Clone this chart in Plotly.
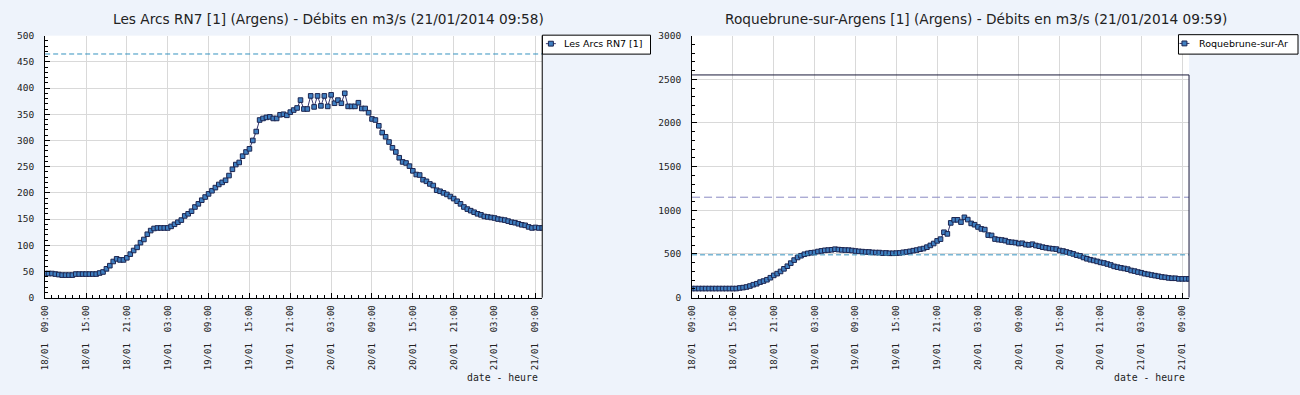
import pandas as pd
import plotly.graph_objects as go

# ---------------- data ----------------
start_time = "2014-01-18 09:00"
step = "30min"

arcs_name = "Les Arcs RN7 [1]"
arcs_values = [
    46, 46, 46, 45, 44, 43, 43, 43, 43, 45, 45, 45, 45, 45, 45, 45,
    47, 49, 55, 61, 69, 74, 72, 72, 76,
    83, 90, 96, 105, 111, 121, 128, 132, 133, 133, 133, 133,
    136, 140, 144, 148, 156, 160, 165, 173, 179, 186, 192, 198,
    204, 210, 216, 220, 224, 233, 245, 254, 258, 270, 278, 284,
    300, 317, 339, 342, 344, 345, 342, 342, 349, 350, 348, 354,
    358, 362, 377, 360, 360, 385, 364, 385, 366, 385, 365, 387,
    371, 377, 371, 390, 365, 365, 365, 372, 361, 361, 353, 341,
    339, 328, 315, 307, 297, 286, 278, 267, 259, 257, 251, 242,
    235, 234, 225, 222, 217, 214, 205, 203, 200, 197, 193, 189,
    184, 179, 173, 169, 166, 163, 160, 158, 155, 154, 153, 152,
    150, 149, 148, 146, 144, 143, 141, 139, 138, 135, 133, 134, 133, 133,
]

roq_name = "Roquebrune-sur-Ar"
roq_values = [
    104, 104, 104, 104, 104, 104, 104, 104, 104, 104, 104, 104, 104, 104,
    111, 115, 122, 133, 148, 159, 178, 190, 205, 228, 255,
    275, 300, 330, 360, 395, 430, 460, 480, 497, 507, 514, 518,
    528, 535, 542, 545, 548, 555, 550, 547, 545, 544, 540, 534,
    530, 527, 523, 523, 518, 516, 516, 510, 512, 508, 508, 510,
    512, 519, 523, 530, 538, 545, 555, 562, 578, 598, 620, 650,
    670, 749, 730, 856, 891, 891, 865, 920, 894, 850, 835, 809,
    787, 779, 716, 712, 671, 664, 660, 653, 638, 634, 630, 619,
    623, 608, 604, 612, 597, 589, 578, 571, 564, 560, 556, 540,
    534, 523, 512, 501, 486, 478, 460, 445, 434, 426, 415, 404,
    397, 385, 374, 358, 349, 341, 334, 326, 311, 304, 293, 285,
    274, 267, 259, 252, 245, 237, 233, 226, 222, 222, 215, 215, 215, 215,
]

arcs_title = "Les Arcs RN7 [1] (Argens) - Débits en m3/s (21/01/2014 09:58)"
roq_title = "Roquebrune-sur-Argens [1] (Argens) - Débits en m3/s (21/01/2014 09:59)"
x_title = "date - heure"

arcs_levels = [465]
arcs_level_colors = ["#3592bf"]
arcs_level_dash = ["5px,3px"]
roq_levels = [490, 1150]
roq_level_colors = ["#3592bf", "#8a8ac2"]
roq_level_dash = ["5px,3px", "8px,4px"]
roq_max_level = 2550

x_start = "2014-01-18 09:00"
x_end = "2014-01-21 10:00"

times_arcs = pd.date_range(start_time, periods=len(arcs_values), freq=step)
times_roq = pd.date_range(start_time, periods=len(roq_values), freq=step)

# ---------------- layout helpers ----------------
W, H = 1300, 395
BG = "#eef3fb"


def px(x):
    return x / W


def py(y):
    return 1 - y / H


L_X0, L_X1 = 40.3, 539.3
R_X0, R_X1 = 689.7, 1188.6
Y_TOP, Y_BOT = 30.5, 300.0

MARKER_FILL = "#3f7fc1"
MARKER_EDGE = "#1c2550"
LINE_COL = "#35356e"

marker = dict(symbol="square", size=4.6, color=MARKER_FILL,
              line=dict(color=MARKER_EDGE, width=1))
line = dict(color=LINE_COL, width=1)

fig = go.Figure()
fig.add_trace(go.Scatter(x=times_arcs, y=arcs_values, mode="lines+markers",
                         name=arcs_name, marker=marker, line=line,
                         xaxis="x", yaxis="y"))
fig.add_trace(go.Scatter(x=times_roq, y=roq_values, mode="lines+markers",
                         name=roq_name, marker=marker, line=line,
                         xaxis="x2", yaxis="y2"))

tickfont = dict(family="DejaVu Sans Mono", size=9.0, color="#222222")
xcommon = dict(
    type="date", range=[x_start, x_end], tick0=x_start, dtick=6 * 3600 * 1000,
    tickformat="%d/%m  %H:%M", tickangle=-90, tickfont=tickfont,
    showgrid=True, gridcolor="#d9d9d9", gridwidth=1,
    showline=True, linecolor="#000000", linewidth=1,
    ticks="inside", ticklen=5, tickcolor="#000000",
    minor=dict(dtick=3600 * 1000, ticks="inside", ticklen=3,
               tickcolor="#000000", showgrid=False),
    zeroline=False, fixedrange=True, ticklabelstandoff=3,
)
ycommon = dict(
    tickfont=dict(family="DejaVu Sans Mono", size=9.5, color="#222222"),
    showgrid=True, gridcolor="#d9d9d9", gridwidth=1,
    showline=True, linecolor="#000000", linewidth=1,
    ticks="inside", ticklen=5, tickcolor="#000000",
    zeroline=False, fixedrange=True, ticklabelstandoff=8,
)

fig.update_layout(
    width=W, height=H,
    margin=dict(l=0, r=0, t=0, b=0),
    paper_bgcolor=BG, plot_bgcolor="#ffffff",
    showlegend=False,
    xaxis=dict(domain=[px(L_X0), px(L_X1)], anchor="y", **xcommon),
    yaxis=dict(domain=[py(Y_BOT), py(Y_TOP)], anchor="x", range=[0, 500],
               dtick=50, minor=dict(dtick=10, ticks="inside", ticklen=3,
                                    tickcolor="#000000", showgrid=False),
               **ycommon),
    xaxis2=dict(domain=[px(R_X0), px(R_X1)], anchor="y2", **xcommon),
    yaxis2=dict(domain=[py(Y_BOT), py(Y_TOP)], anchor="x2", range=[0, 3000],
                dtick=500, minor=dict(dtick=100, ticks="inside", ticklen=3,
                                      tickcolor="#000000", showgrid=False),
                **ycommon),
)

shapes = []
for lvl, col, dsh in zip(arcs_levels, arcs_level_colors, arcs_level_dash):
    shapes.append(dict(type="line", xref="x domain", yref="y", x0=0, x1=1,
                       y0=lvl, y1=lvl, line=dict(color=col, width=1, dash=dsh)))
for lvl, col, dsh in zip(roq_levels, roq_level_colors, roq_level_dash):
    shapes.append(dict(type="line", xref="x2 domain", yref="y2", x0=0, x1=1,
                       y0=lvl, y1=lvl, line=dict(color=col, width=1, dash=dsh)))
shapes.append(dict(type="line", xref="x2 domain", yref="y2", x0=0, x1=1,
                   y0=roq_max_level, y1=roq_max_level,
                   line=dict(color="#1a1a3a", width=1)))
shapes.append(dict(type="line", xref="x2 domain", yref="y2", x0=1, x1=1,
                   y0=0, y1=roq_max_level, line=dict(color="#1a1a3a", width=1)))
shapes.append(dict(type="line", xref="x domain", yref="y domain", x0=1, x1=1,
                   y0=0, y1=1, line=dict(color="#000000", width=1)))


# custom legends (box, symbol, label)
def add_legend(box_x0, box_x1, box_y0, box_y1, sym_x, text_x, label):
    yc = (box_y0 + box_y1) / 2 - 1
    shapes.append(dict(type="rect", xref="paper", yref="paper",
                       x0=px(box_x0), x1=px(box_x1), y0=py(box_y1), y1=py(box_y0),
                       fillcolor="#ffffff", line=dict(color="#000000", width=1),
                       layer="above"))
    shapes.append(dict(type="line", xref="paper", yref="paper",
                       x0=px(sym_x - 5), x1=px(sym_x + 5), y0=py(yc), y1=py(yc),
                       line=dict(color=LINE_COL, width=1), layer="above"))
    shapes.append(dict(type="rect", xref="paper", yref="paper",
                       x0=px(sym_x - 2.5), x1=px(sym_x + 2.5),
                       y0=py(yc + 2.5), y1=py(yc - 2.5),
                       fillcolor=MARKER_FILL, line=dict(color=MARKER_EDGE, width=1),
                       layer="above"))
    fig.add_annotation(text=label, x=px(text_x), y=py(yc), xref="paper", yref="paper",
                       showarrow=False, xanchor="left", yanchor="middle",
                       font=dict(family="DejaVu Sans", size=9.5, color="#000000"))


add_legend(539.5, 648, 30, 49.5, 548, 559, arcs_name)
add_legend(1178, 1298, 29.5, 49.5, 1184, 1197, roq_name)
fig.update_layout(shapes=shapes)

title_font = dict(family="DejaVu Sans", size=13.7, color="#222222")
fig.add_annotation(text=arcs_title, x=px(325), y=py(13), xref="paper", yref="paper",
                   showarrow=False, font=title_font, xanchor="center", yanchor="middle")
fig.add_annotation(text=roq_title, x=px(975), y=py(13), xref="paper", yref="paper",
                   showarrow=False, font=title_font, xanchor="center", yanchor="middle")
axis_title_font = dict(family="DejaVu Sans Mono", size=9.8, color="#222222")
fig.add_annotation(text=x_title, x=px(L_X1 - 2), y=py(382), xref="paper", yref="paper",
                   showarrow=False, font=axis_title_font, xanchor="right", yanchor="middle")
fig.add_annotation(text=x_title, x=px(R_X1 - 2), y=py(382), xref="paper", yref="paper",
                   showarrow=False, font=axis_title_font, xanchor="right", yanchor="middle")

fig.write_html("out.html",
               config={"displayModeBar": False, "staticPlot": True},
               post_script="document.body.style.margin='0';"
                           "document.body.style.overflow='hidden';")
